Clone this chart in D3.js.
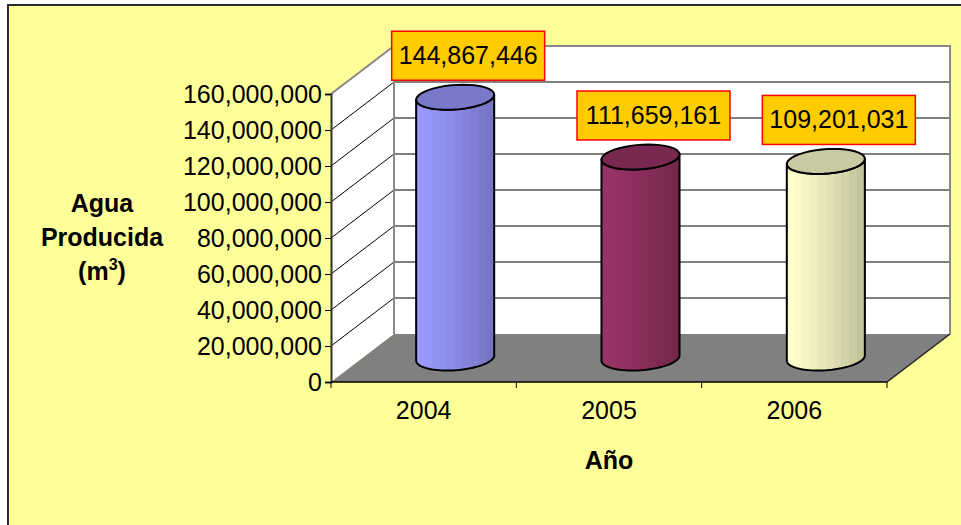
<!DOCTYPE html>
<html>
<head>
<meta charset="utf-8">
<script src="https://cdn.jsdelivr.net/npm/d3@7"></script>
<style>
  body { margin: 0; background: #fff; }
  text { font-family: "Liberation Sans", Arial, sans-serif; }
</style>
</head>
<body>
<div id="chart"></div>
<script>
// data
var years = ["2004", "2005", "2006"];
var water = [144867446, 111659161, 109201031];
var barColors = ["#9999FF", "#993366", "#FFFFCC"];
var yTicks = [0, 20000000, 40000000, 60000000, 80000000, 100000000, 120000000, 140000000, 160000000];

var svgWidth = 961;
var svgHeight = 525;

// front plane of the 3d box
var plot = { left: 331, right: 887, top: 94, bottom: 382 };
var depth = { dx: 63, dy: -48 };

var svg = d3.select("#chart")
  .append("svg")
  .attr("width", svgWidth)
  .attr("height", svgHeight);

// chart area
svg.append("rect")
  .attr("x", 8).attr("y", 5)
  .attr("width", 1000).attr("height", 600)
  .attr("fill", "#FFFF99")
  .attr("stroke", "#2b2b2b")
  .attr("stroke-width", 2);

var x = d3.scaleBand().domain(years).range([plot.left, plot.right]);
var y = d3.scaleLinear().domain([0, 160000000]).range([plot.bottom, plot.top]);

var dx = depth.dx, dy = depth.dy;
var bx0 = plot.left + dx, bx1 = plot.right + dx;

// side wall
svg.append("polygon")
  .attr("points", [[plot.left, y(160000000)], [bx0, y(160000000) + dy], [bx0, y(0) + dy], [plot.left, y(0)]].join(" "))
  .attr("fill", "#fff");

// back wall
svg.append("rect")
  .attr("x", bx0).attr("y", y(160000000) + dy)
  .attr("width", bx1 - bx0).attr("height", y(0) - y(160000000))
  .attr("fill", "#fff");

// gridlines
var grid = yTicks.filter(d => d > 0 && d < 160000000);
svg.selectAll(".gside").data(grid).enter().append("line")
  .attr("x1", plot.left).attr("y1", d => y(d))
  .attr("x2", bx0).attr("y2", d => y(d) + dy)
  .attr("stroke", "#000").attr("stroke-width", 1);
svg.selectAll(".gback").data(grid).enter().append("line")
  .attr("x1", bx0).attr("y1", d => y(d) + dy)
  .attr("x2", bx1).attr("y2", d => y(d) + dy)
  .attr("stroke", "#000").attr("stroke-width", 1);

// wall edges
svg.append("path")
  .attr("d", "M" + plot.left + "," + y(160000000) + "L" + bx0 + "," + (y(160000000) + dy) +
    "L" + bx1 + "," + (y(160000000) + dy) + "L" + bx1 + "," + (y(0) + dy))
  .attr("fill", "none").attr("stroke", "#888").attr("stroke-width", 2);
svg.append("line")
  .attr("x1", bx0).attr("y1", y(160000000) + dy)
  .attr("x2", bx0).attr("y2", y(0) + dy)
  .attr("stroke", "#888").attr("stroke-width", 2);

// floor
svg.append("polygon")
  .attr("points", [[plot.left, y(0)], [plot.right, y(0)], [bx1, y(0) + dy], [bx0, y(0) + dy]].join(" "))
  .attr("fill", "#808080");
svg.append("line")
  .attr("x1", plot.right).attr("y1", y(0))
  .attr("x2", bx1).attr("y2", y(0) + dy)
  .attr("stroke", "#222").attr("stroke-width", 1.5);

// gradients for the cylinders
var defs = svg.append("defs");
barColors.forEach(function(c, i) {
  var dark = d3.rgb(c).darker(0.75);
  var interp = d3.interpolateRgb(c, dark);
  var g = defs.append("linearGradient")
    .attr("id", "cyl" + i)
    .attr("x1", "0").attr("x2", "1").attr("y1", "0").attr("y2", "0");
  var n = 10;
  for (var k = 0; k < n; k++) {
    var col = interp(Math.pow(k / (n - 1), 1.2));
    g.append("stop").attr("offset", k / n).attr("stop-color", col);
    g.append("stop").attr("offset", (k + 1) / n).attr("stop-color", col);
  }
});

// cylinder geometry
var radX = 38.2;
var vx = 8, vy = -12.5;
var th0 = Math.atan2(vx, radX);

function pt(cx, cy, t) {
  return [cx + radX * Math.cos(t) + vx * Math.sin(t), cy + vy * Math.sin(t)];
}
function arc(cx, cy, from, to) {
  var pts = [];
  for (var i = 0; i <= 40; i++) {
    pts.push(pt(cx, cy, from + (to - from) * i / 40));
  }
  return pts;
}

var bars = years.map(function(yr, i) {
  var cx = x(yr) + x.bandwidth() / 2 + dx / 2;
  return {
    year: yr, value: water[i], idx: i,
    cx: cx,
    top: y(water[i]) + dy / 2,
    bottom: y(0) + dy / 2
  };
});

var line = d3.line();

var cyl = svg.selectAll(".cyl").data(bars).enter().append("g");

cyl.append("path")
  .attr("d", function(d) {
    var p = [];
    p = p.concat(arc(d.cx, d.bottom, th0, th0 - Math.PI));
    p = p.concat(arc(d.cx, d.top, th0 - Math.PI, th0));
    return line(p) + "Z";
  })
  .attr("fill", d => "url(#cyl" + d.idx + ")")
  .attr("stroke", "#000")
  .attr("stroke-width", 2)
  .attr("stroke-linejoin", "round");

cyl.append("path")
  .attr("d", d => line(arc(d.cx, d.top, 0, 2 * Math.PI)) + "Z")
  .attr("fill", d => d3.rgb(barColors[d.idx]).darker(0.65))
  .attr("stroke", "#000")
  .attr("stroke-width", 2);

// y axis
var yAxis = d3.axisLeft(y)
  .tickValues(yTicks)
  .tickSize(6)
  .tickPadding(3)
  .tickFormat(d3.format(","));

var yg = svg.append("g")
  .attr("transform", `translate(${plot.left}, 0)`)
  .call(yAxis);
yg.select(".domain").attr("stroke", "#333").attr("stroke-width", 2);
yg.selectAll(".tick line").attr("stroke", "#000");
yg.selectAll("text")
  .style("font-family", "'Liberation Sans', Arial, sans-serif")
  .style("font-size", "25px")
  .attr("fill", "#000");

// x axis
svg.append("line")
  .attr("x1", plot.left).attr("y1", y(0))
  .attr("x2", plot.right).attr("y2", y(0))
  .attr("stroke", "#000").attr("stroke-width", 1.5);

var edges = years.map(d => x(d)).concat([x.range()[1]]);
svg.selectAll(".xtick").data(edges).enter().append("line")
  .attr("x1", d => d).attr("x2", d => d)
  .attr("y1", y(0)).attr("y2", y(0) + 6)
  .attr("stroke", "#000");

var xg = svg.append("g")
  .attr("transform", `translate(0, ${y(0)})`)
  .call(d3.axisBottom(x).tickSize(0).tickPadding(19));
xg.select(".domain").remove();
xg.selectAll("text")
  .style("font-family", "'Liberation Sans', Arial, sans-serif")
  .style("font-size", "25px")
  .attr("fill", "#000");

// axis titles
svg.append("text")
  .attr("x", 609).attr("y", 469)
  .attr("text-anchor", "middle")
  .style("font-size", "25px")
  .style("font-weight", "bold")
  .text("Año");

var yTitle = svg.append("text")
  .attr("text-anchor", "middle")
  .style("font-size", "25px")
  .style("font-weight", "bold");
yTitle.append("tspan").attr("x", 102).attr("y", 212).text("Agua");
yTitle.append("tspan").attr("x", 102).attr("y", 246).text("Producida");
yTitle.append("tspan").attr("x", 102).attr("y", 280).text("(m");
yTitle.append("tspan").attr("dy", -10).style("font-size", "16px").text("3");
yTitle.append("tspan").attr("dy", 10).text(")");

// data labels
var fmt = d3.format(",");
var labels = svg.selectAll(".lbl").data(bars).enter().append("g")
  .attr("transform", d => `translate(${d.cx + 13}, ${d.top - 17})`);

labels.append("rect")
  .attr("x", -76.5).attr("y", -49)
  .attr("width", 153).attr("height", 49)
  .attr("fill", "#FFCC00")
  .attr("stroke", "#FF0000")
  .attr("stroke-width", 1.5);

labels.append("text")
  .attr("x", 0).attr("y", -16)
  .attr("text-anchor", "middle")
  .style("font-size", "25px")
  .text(d => fmt(d.value));
</script>
</body>
</html>
